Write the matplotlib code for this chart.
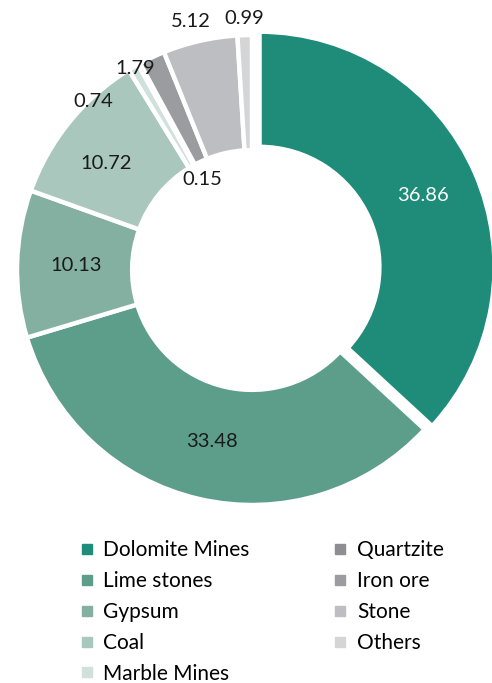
"""Donut chart: share of mining leases by mineral (%)."""

import matplotlib.pyplot as plt
import numpy as np
from matplotlib.lines import Line2D

plt.rcParams["font.family"] = ["Lato", "DejaVu Sans"]

categories = ["Dolomite Mines", "Lime stones", "Gypsum", "Coal", "Marble Mines",
              "Quartzite", "Iron ore", "Stone", "Others"]
values = [36.86, 33.48, 10.13, 10.72, 0.74, 0.15, 1.79, 5.12, 0.99]
labels = ["36.86", "33.48", "10.13", "10.72", "0.74", "0.15", "1.79", "5.12", "0.99"]

colors = ["#1e8c78", "#5c9e8a", "#84b0a2", "#a9c7bd", "#d0e0da",
          "#8c8e92", "#9a9ca0", "#bdbec1", "#d4d5d7"]
explode = [0.035, 0, 0, 0, 0, 0, 0, 0, 0]

# label placement: radius and angular shift (deg) from wedge mid-angle
label_r = [0.76, 0.75, 0.75, 0.77, 0.985, 0.44, 0.99, 1.09, 1.07]
label_shift = [0, 0, 0, 3, 13, 0, 5, 1, 0]
label_color = ["white"] + ["#1a1a1a"] * 8

fig = plt.figure(figsize=(4.92, 6.83), dpi=100)
R_PX = 235
L = 2.4
ax = fig.add_axes([(252 - L / 2 * R_PX) / 492, (413 - L / 2 * R_PX) / 683,
                   L * R_PX / 492, L * R_PX / 683])

wedges, _ = ax.pie(values, colors=colors, explode=explode, startangle=90,
                   counterclock=False, radius=1.0,
                   wedgeprops=dict(width=0.49, edgecolor="white", linewidth=3.2))
ax.set_xlim(-L / 2, L / 2)
ax.set_ylim(-L / 2, L / 2)
ax.axis("off")

for w, lab, r, sh, c in zip(wedges, labels, label_r, label_shift, label_color):
    mid = np.deg2rad((w.theta1 + w.theta2) / 2 + sh)
    cx, cy = w.center
    ax.text(cx + r * np.cos(mid), cy + r * np.sin(mid), lab, ha="center", va="center",
            fontsize=14.5, color=c)

handles = [Line2D([], [], marker="s", linestyle="none", markersize=6.5,
                  markerfacecolor=col, markeredgecolor=col) for col in colors]
fig.legend(handles, categories, loc="upper left", bbox_to_anchor=(0.14, 0.224),
           ncol=2, frameon=False, fontsize=15, handlelength=0.7, handletextpad=0.45,
           labelspacing=0.52, columnspacing=4.0, borderpad=0)

fig.savefig("out.png", dpi=100)
print("Saved to out.png")
